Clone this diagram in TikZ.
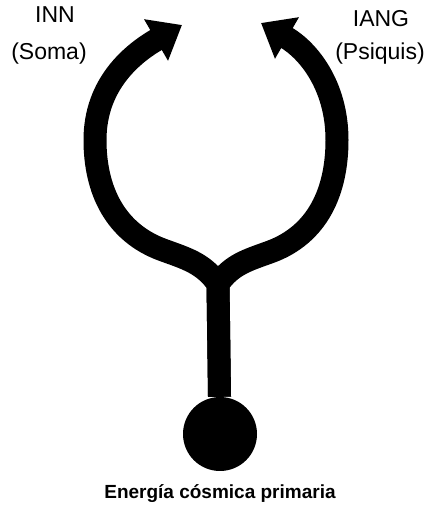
\documentclass[tikz,border=0pt]{standalone}
\usepackage{fontspec}
\setmainfont{Liberation Sans}
\usetikzlibrary{positioning, arrows.meta}

\begin{document}
\begin{tikzpicture}[
        x=1pt, y=1pt,
        txt/.style={font=\fontsize{23}{27}\selectfont, anchor=base},
        flow/.style={line width=23pt, line join=round, -{Triangle[length=30pt, width=46pt]}},
    ]
        \useasboundingbox (0,0) rectangle (428,506);

        % Source
        \node[circle, fill=black, minimum size=74pt, inner sep=0pt] (src) at (220,72) {};
        \node[font=\bfseries\fontsize{19}{23}\selectfont, anchor=base] (cap) at (220,8) {Energía cósmica primaria};

        % Labels
        \node[txt] (inn) at (55,483) {INN};
        \node[txt] (soma) at (49,446) {(Soma)};
        \node[txt] (iang) at (381,479) {IANG};
        \node[txt] (psi) at (380,446) {(Psiquis)};

        % Fork
        \coordinate (fork) at (218,222);
        \coordinate (lmid) at (163,256);
        \coordinate (lside) at (95,366);
        \coordinate (ltip) at (182,481);
        \coordinate (rmid) at (270,254);
        \coordinate (rside) at (337,366);
        \coordinate (rtip) at (261,483);

        % Arrows
        \draw[flow] (src) -- (fork) to[out=125, in=-20] (lmid) to[out=160, in=-90] (lside) to[out=90, in=-150] (ltip);
        \draw[flow] (src) -- (fork) to[out=55, in=200] (rmid) to[out=20, in=-90] (rside) to[out=90, in=-30] (rtip);

    \end{tikzpicture}
\end{document}
